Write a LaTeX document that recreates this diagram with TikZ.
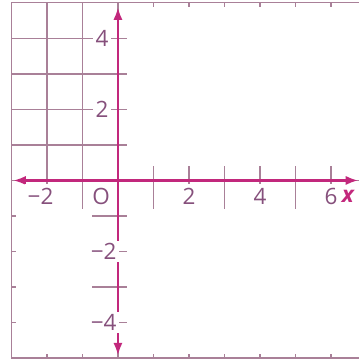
\documentclass[tikz,border=0pt]{standalone}
\usepackage{fontspec}
\setmainfont{Open Sans}
\usepackage{xcolor}
\usetikzlibrary{arrows.meta,positioning}
\definecolor{gridmauve}{HTML}{A98098}
\definecolor{axismag}{HTML}{C2287C}
\definecolor{labelpurple}{HTML}{86507C}
\tikzset{
  gridline/.style={draw=gridmauve, line width=1pt},
  blank/.style={fill=white, draw=none},
  axis/.style={{Latex[length=3.6mm,width=2.6mm]}-{Latex[length=3.6mm,width=2.6mm]}, draw=axismag, line width=2pt},
  ticklabel/.style={fill=white, inner xsep=2pt, inner ysep=4pt, text=labelpurple, font=\fontsize{18}{20}\selectfont},
  axisname/.style={text=axismag, inner sep=1pt, font=\fontsize{18}{20}\selectfont\bfseries\itshape}
}

\begin{document}
\begin{tikzpicture}[x=1cm,y=1cm]
        \useasboundingbox (-3.32,-5.11) rectangle (6.79,5.08);
        % grid, partly blanked out
        \draw[gridline] (-3,-5) grid (6.79,5);
        \fill[blank] (0.25,0.4) rectangle (6.9,4.88);
        \fill[blank] (0.25,-0.8) rectangle (6.9,-4.88);
        \fill[blank] (-2.88,-0.8) rectangle (-0.73,-4.88);
        % axes
        \coordinate (xleft) at (-2.95,0);
        \coordinate (xright) at (6.77,0);
        \coordinate (ybottom) at (0,-4.93);
        \coordinate (ytop) at (0,4.88);
        \draw[axis] (xleft) -- (xright);
        \draw[axis] (ybottom) -- (ytop);
        % labels
        \foreach \v in {2,4} {
          \node[ticklabel, inner ysep=2pt] (ylab\v) at (-0.45,\v) {\v};
          \node[ticklabel, inner ysep=2pt] (ylabm\v) at (-0.4,-\v) {−\v};
          \node[ticklabel] (xlab\v) at (\v,-0.46) {\v};
        }
        \node[ticklabel] (xlab6) at (6,-0.46) {6};
        \node[ticklabel] (xlabm2) at (-2.18,-0.46) {−2};
        \node[ticklabel] (origin) at (-0.47,-0.46) {O};
        \node[axisname, right=0pt of xlab6] (xname) {x};
      \end{tikzpicture}
\end{document}
